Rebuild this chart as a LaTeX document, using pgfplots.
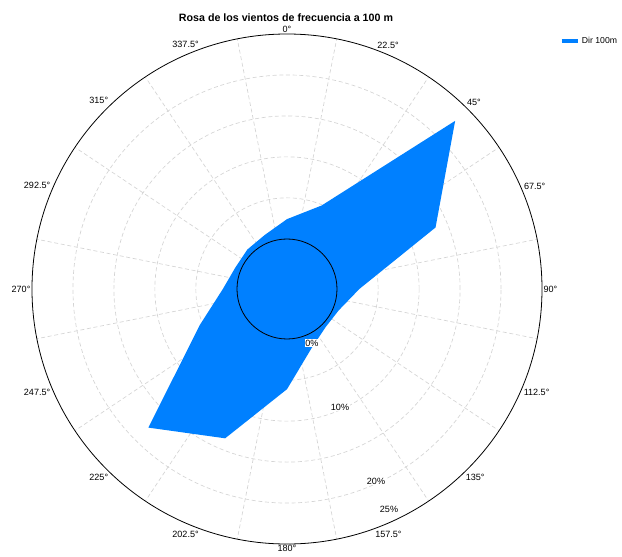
\documentclass[border=0pt]{standalone}
\usepackage{fontspec}
\setmainfont{Liberation Sans}
\usepackage{pgfplots}
\usepackage{pgfplotstable}
\pgfplotsset{compat=1.18}
\usepgfplotslibrary{polar}
\definecolor{windblue}{RGB}{0,128,255}
\definecolor{gridgray}{RGB}{212,212,212}
\pgfplotstableread{
dir pct
0 2.4
22.5 4.9
45 22.9
67.5 13.5
90 2.7
112.5 0.7
135 0.5
157.5 1.7
180 6.1
202.5 13.6
225 17.8
247.5 5.4
270 1.7
292.5 0.7
315 0.7
337.5 1.0
360 2.4
}\windtable
\begin{document}
\begin{tikzpicture}
\useasboundingbox (-215.25pt,-201pt) rectangle (251.25pt,216.75pt);
\begin{polaraxis}[
  at={(0pt,0pt)}, anchor=center,
  scale only axis, width=382.5pt, height=382.5pt,
  xmin=0, xmax=360, ymin=0, ymax=31.13,
  xtick={0,22.5,...,337.5},
  xticklabels={90°,67.5°,45°,22.5°,0°,337.5°,315°,292.5°,270°,247.5°,225°,202.5°,180°,157.5°,135°,112.5°},
  xticklabel style={font=\fontsize{6.8}{8}\selectfont, inner sep=1pt},
  minor xtick={11.25,33.75,...,348.75},
  ytick={11.13,16.13,21.13,26.13},
  yticklabels={},
  major tick length=0pt, minor tick length=0pt,
  xmajorgrids=false, xminorgrids=true, ymajorgrids=true,
  grid style={gridgray, dash pattern=on 3pt off 2pt, line width=0.5pt},
  minor grid style={gridgray, dash pattern=on 3pt off 2pt, line width=0.5pt},
  x axis line style={black, line width=0.6pt},
  y axis line style={draw=none},
  legend style={at={(1.153,0.986)}, anchor=east, draw=none, fill=none,
    font=\fontsize{6.5}{8}\selectfont, inner sep=0pt},
  legend cell align=left,
]
\addplot[draw=none, fill=windblue,
  legend image code/.code={\draw[windblue, line width=2.5pt] (0pt,0pt) -- (12pt,0pt);}]
  table[x expr=90-\thisrow{dir}, y expr=\thisrow{pct}+6.13] {\windtable};
\addlegendentry{Dir 100m}
\end{polaraxis}
\draw[black, line width=0.6pt] (0,0) circle (37.5pt);
\node[font=\bfseries\fontsize{8}{10}\selectfont] at (-0.75pt,203.25pt) {Rosa de los vientos de frecuencia a 100 m};
\begin{scope}[every node/.style={font=\fontsize{6.8}{8}\selectfont, fill=white, inner sep=0.6pt}]
\node at (18.75pt,-40.5pt) {0\%};
\node at (39.75pt,-88.5pt) {10\%};
\node at (66.75pt,-144pt) {20\%};
\node at (76.5pt,-165pt) {25\%};
\end{scope}
\end{tikzpicture}
\end{document}
